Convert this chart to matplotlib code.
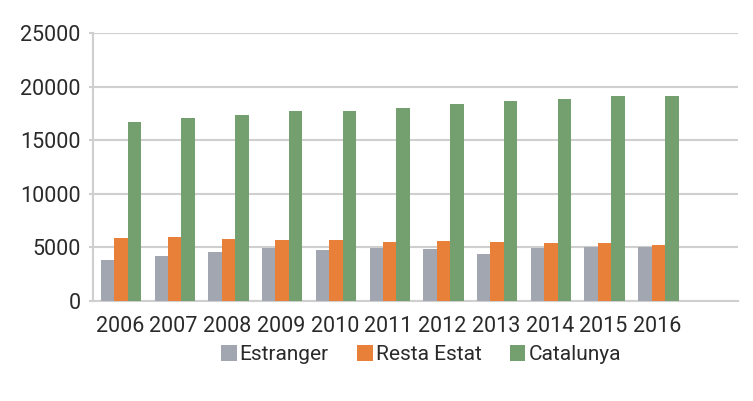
import numpy as np
import matplotlib.pyplot as plt

plt.rcParams['font.family'] = ['Roboto', 'DejaVu Sans']

# Data ---------------------------------------------------------------
years = ['2006', '2007', '2008', '2009', '2010', '2011',
         '2012', '2013', '2014', '2015', '2016']
estranger = [3830, 4240, 4550, 4920, 4770, 4980, 4830, 4360, 4980, 5080, 5080]
resta_estat = [5920, 5950, 5790, 5700, 5700, 5550, 5610, 5480, 5390, 5390, 5230]
catalunya = [16760, 17130, 17410, 17760, 17790, 18040, 18410, 18690, 18880, 19160, 19200]

series = [('Estranger', estranger, '#a2a6b0'),
          ('Resta Estat', resta_estat, '#e8803a'),
          ('Catalunya', catalunya, '#74a070')]

# Plot ---------------------------------------------------------------
fig = plt.figure(figsize=(7.53, 4.01), dpi=100)
ax = fig.add_axes([0.1235, 0.2494, 0.980 - 0.1235, 0.9165 - 0.2494])

x = np.arange(len(years))
w = 0.25
for i, (name, vals, col) in enumerate(series):
    ax.bar(x + (i - 1) * w + 0.02, vals, width=w, color=col, label=name, zorder=3)

ax.set_xlim(-0.5, len(years) + 0.5)   # one empty slot on the right
ax.set_ylim(0, 25000)
ax.set_yticks(np.arange(0, 25001, 5000))
ax.set_xticks(x)
ax.set_xticklabels(years)

ax.grid(axis='y', color='#cfcfcf', linewidth=1.5, zorder=0)
for s in ['top', 'right']:
    ax.spines[s].set_visible(False)
for s in ['left', 'bottom']:
    ax.spines[s].set_color('#cfcfcf')
    ax.spines[s].set_linewidth(1.5)

ax.tick_params(axis='y', labelsize=15.5, colors='#cfcfcf', labelcolor='#2a2a2a',
               length=3, width=1.5, pad=6)
ax.tick_params(axis='x', labelsize=15.5, labelcolor='#2a2a2a', length=0, pad=11)

fig.legend(loc='center', bbox_to_anchor=(0.559, 0.115), ncol=3, frameon=False,
           fontsize=15, handlelength=0.75, handleheight=0.75,
           handletextpad=0.15, columnspacing=1.35, labelcolor='#2a2a2a')

fig.savefig('out.png', dpi=100)
